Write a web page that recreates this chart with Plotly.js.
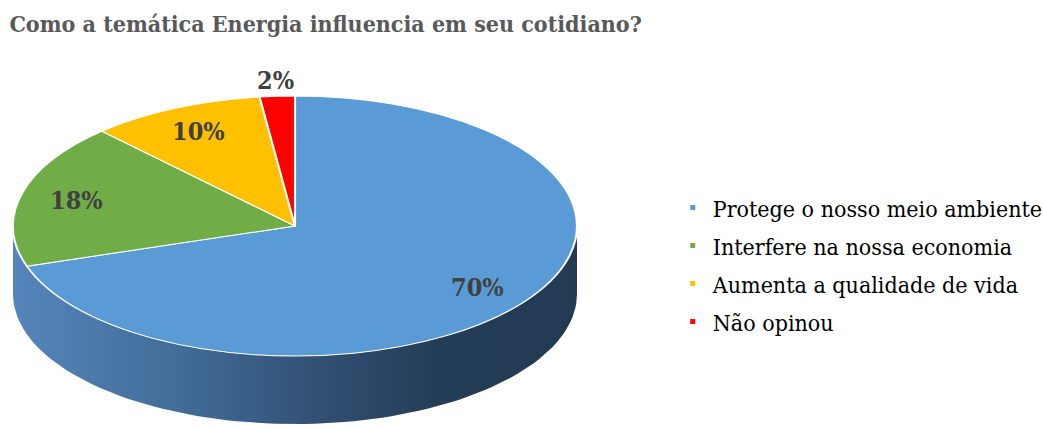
<!DOCTYPE html>
<html>
<head>
<meta charset="utf-8">
<script src="https://cdn.plot.ly/plotly-3.0.1.min.js"></script>
<style>
  body { margin: 0; background: #fff; }
  #grafico { width: 1043px; height: 427px; }
  .legendpie { d: path("M2.5,2.5H-2.5V-2.5H2.5Z"); stroke-width: 0 !important; }
</style>
</head>
<body>
<div id="grafico"></div>
<script>
const categorias = ['Protege o nosso meio ambiente', 'Interfere na nossa economia', 'Aumenta a qualidade de vida', 'Não opinou'];
const percentuais = [70, 18, 10, 2];
const cores = ['#5b9bd5', '#70ad47', '#ffc000', '#ff0000'];

const W = 1043, H = 427;
const SERIFA = 'DejaVu Serif Condensed, DejaVu Serif, serif';
// elipse do topo da pizza "3D" (em pixels)
const cx = 295, cy = 226, rx = 282, ry = 130, espessura = 68;
const domX = [0, 2 * cx / W];
const domY = [0, 2 * (1 - cy / H)];
const raio = Math.min(W * domX[1], H * domY[1]) / 2;

// lateral da pizza, so decoracao
const ladoX = [], ladoY = [];
for (let a = 90; a <= 270; a += 2) {
  const t = a * Math.PI / 180;
  ladoX.push(cx + rx * Math.sin(t));
  ladoY.push(cy - ry * Math.cos(t));
}
for (let a = 270; a >= 90; a -= 2) {
  const t = a * Math.PI / 180;
  ladoX.push(cx + rx * Math.sin(t));
  ladoY.push(cy - ry * Math.cos(t) + espessura);
}

// rotulos de porcentagem no meio de cada fatia
const total = percentuais.reduce((a, b) => a + b, 0);
let acum = 0;
const rotulos = percentuais.map(v => {
  const meio = (acum + v / 2) / total * 2 * Math.PI;
  acum += v;
  const f = v / total < 0.05 ? 1.12 : 0.8;
  return {
    x: cx + f * rx * Math.sin(meio),
    y: cy - f * ry * Math.cos(meio),
    xref: 'x', yref: 'y',
    text: '<b>' + v + '%</b>',
    showarrow: false,
    font: {family: SERIFA, size: 25, color: '#404040'}
  };
});

const data = [{
  type: 'scatter',
  x: ladoX,
  y: ladoY,
  mode: 'lines',
  line: {width: 0},
  fill: 'toself',
  fillgradient: {
    type: 'horizontal',
    start: cx - rx,
    stop: cx + rx,
    colorscale: [[0, '#5585ba'], [0.3, '#416c98'], [0.55, '#324f72'], [0.75, '#243d57'], [1, '#223a52']]
  },
  hoverinfo: 'skip',
  showlegend: false
}, {
  type: 'pie',
  values: percentuais,
  labels: categorias,
  sort: false,
  direction: 'clockwise',
  rotation: 0,
  textinfo: 'none',
  hoverinfo: 'label+percent',
  marker: {colors: cores, line: {color: '#ffffff', width: 1.5}},
  domain: {x: domX, y: domY}
}];

const layout = {
  width: W,
  height: H,
  margin: {l: 0, r: 0, t: 0, b: 0, autoexpand: false},
  paper_bgcolor: '#ffffff',
  plot_bgcolor: '#ffffff',
  title: {
    text: '<b>Como a temática Energia influencia em seu cotidiano?</b>',
    x: 0.009, xanchor: 'left',
    y: 0.944, yanchor: 'middle',
    font: {family: SERIFA, size: 23, color: '#595959'}
  },
  xaxis: {range: [0, W], visible: false, fixedrange: true},
  yaxis: {range: [H, 0], visible: false, fixedrange: true},
  showlegend: true,
  legend: {
    x: 0.645, xanchor: 'left',
    y: 0.38, yanchor: 'middle',
    bgcolor: 'rgba(0,0,0,0)',
    font: {family: SERIFA, size: 23, color: '#000000'}
  },
  annotations: rotulos
};

Plotly.newPlot('grafico', data, layout, {displayModeBar: false, staticPlot: true}).then(() => {
  // achata o circulo numa elipse
  const camada = document.querySelector('.pielayer');
  camada.style.transformOrigin = cx + 'px ' + cy + 'px';
  camada.style.transform = 'scale(' + (rx / raio) + ',' + (ry / raio) + ')';

  // linhas da legenda mais espacadas, como no original
  const caixa = document.querySelector('.legend .scrollbox');
  if (caixa) caixa.removeAttribute('clip-path');
  const itens = document.querySelectorAll('.legend .traces');
  const ys = [];
  itens.forEach(g => {
    const m = /translate\(\s*([-\d.]+)[ ,]+([-\d.]+)/.exec(g.getAttribute('transform') || '');
    ys.push(m ? [+m[1], +m[2]] : [0, 0]);
  });
  const meio = ys.reduce((s, p) => s + p[1], 0) / ys.length;
  itens.forEach((g, i) => {
    g.setAttribute('transform', 'translate(' + ys[i][0] + ',' + (meio + (i - (itens.length - 1) / 2) * 38) + ')');
  });
});
</script>
</body>
</html>
